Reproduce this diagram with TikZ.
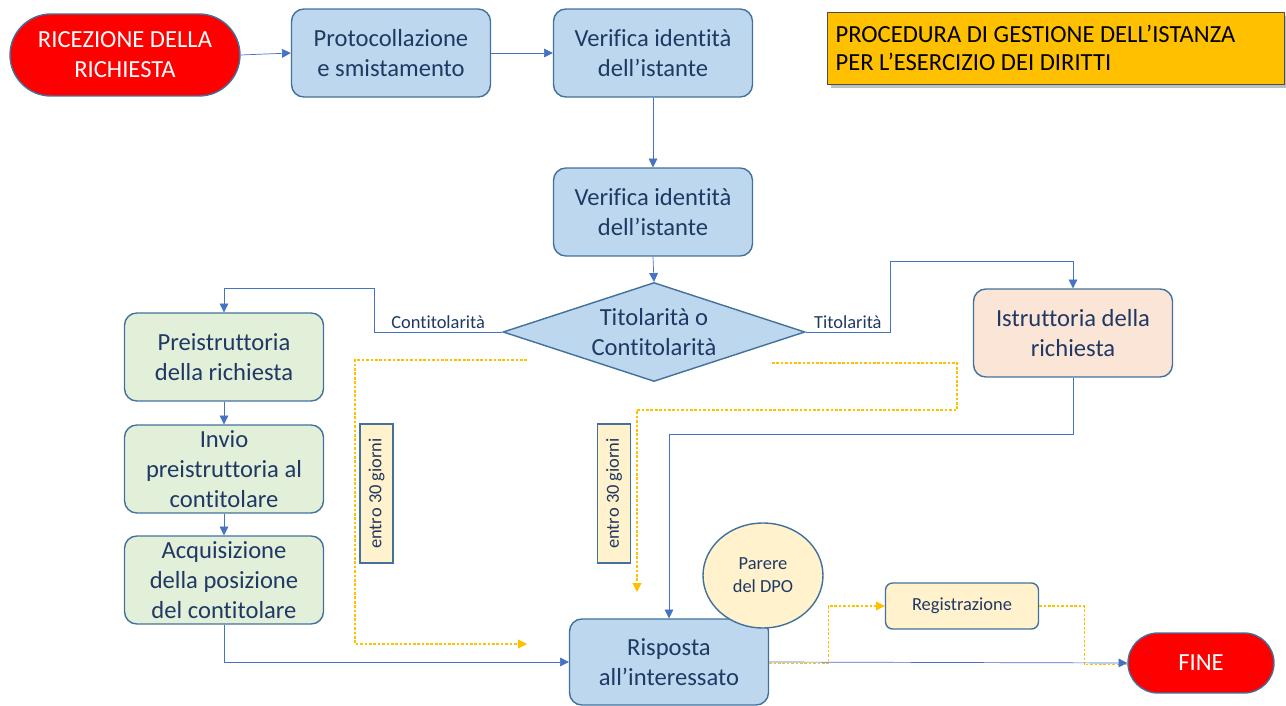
\documentclass[tikz,border=0pt]{standalone}
\usepackage{fontspec}
\setmainfont[Ligatures=NoCommon]{Carlito}
\usepackage{tikz}
\usetikzlibrary{shapes,positioning,arrows.meta,shadows}

\definecolor{boxline}{HTML}{41719C}
\definecolor{boxtext}{HTML}{1F3864}
\definecolor{lineblue}{HTML}{4472C4}
\definecolor{paleblue}{HTML}{BDD7EE}
\definecolor{palegreen}{HTML}{E2F0D9}
\definecolor{palepeach}{HTML}{FBE5D6}
\definecolor{paleyellow}{HTML}{FFF2CC}
\definecolor{gold}{HTML}{FFC000}

\begin{document}
\begin{tikzpicture}[x=0.02cm,y=-0.02cm,
    stepbox/.style={rectangle,rounded corners=7pt,draw=boxline,thick,
      text=boxtext,align=center,font=\fontsize{14}{17}\selectfont,
      minimum width=3.98cm,minimum height=1.76cm,inner sep=2pt},
    endbox/.style={rounded rectangle,draw=boxline,thick,fill=red,
      text=white,align=center,font=\fontsize{14}{17}\selectfont,inner sep=0pt},
    notebox/.style={rectangle,draw=boxline,thick,fill=paleyellow,
      text=boxtext,font=\fontsize{10.5}{12}\selectfont,inner sep=1pt},
    lbl/.style={text=boxtext,font=\fontsize{10.5}{12}\selectfont,inner sep=2pt},
    flow/.style={draw=lineblue,-{Triangle[length=5pt,width=5pt]}},
    yflow/.style={draw=gold,line width=0.6pt,dash pattern=on 1.5pt off 1pt,
      -{Triangle[length=5pt,width=5pt]}}]
  \useasboundingbox (0,0) rectangle (1286,706);

  % top row
  \node (ric) [endbox,minimum width=4.6cm,minimum height=1.64cm] at (125,55)
    {RICEZIONE DELLA\\RICHIESTA};
  \node (prot) [stepbox,fill=paleblue] at (391,53) {Protocollazione\\e smistamento};
  \node (ver1) [stepbox,fill=paleblue] at (653,53) {Verifica identità\\dell’istante};
  \node (title) [rectangle,draw=black!70,fill=gold,drop shadow,align=flush left,
    minimum width=9.14cm,minimum height=1.44cm,text width=8.8cm,
    font=\fontsize{14}{16.4}\selectfont] at (1055.5,48)
    {PROCEDURA DI GESTIONE DELL’ISTANZA\\PER L’ESERCIZIO DEI DIRITTI};

  \node (ver2) [stepbox,fill=paleblue] at (653,212) {Verifica identità\\dell’istante};
  \node (dec) [diamond,draw=boxline,thick,fill=paleblue,inner sep=0pt,
    minimum width=6.04cm,minimum height=1.98cm] at (654,332) {};
  \node (dectxt) [text=boxtext,align=center,font=\fontsize{14}{17}\selectfont]
    at (dec) {Titolarità o\\Contitolarità};

  % left branch
  \node (pre) [stepbox,fill=palegreen] at (224,357) {Preistruttoria\\della richiesta};
  \node (inv) [stepbox,fill=palegreen] at (224,469) {Invio\\preistruttoria al\\contitolare};
  \node (acq) [stepbox,fill=palegreen] at (224,580) {Acquisizione\\della posizione\\del contitolare};

  % right branch
  \node (istr) [stepbox,fill=palepeach] at (1073,333) {Istruttoria della\\richiesta};

  % deadlines
  \node (gg1) [notebox,rotate=90,minimum width=2.78cm,minimum height=0.66cm]
    at (376.5,493.5) {entro 30 giorni};
  \node (gg2) [notebox,rotate=90,minimum width=2.78cm,minimum height=0.66cm]
    at (614,493.5) {entro 30 giorni};

  % bottom row
  \node (risp) [stepbox,fill=paleblue,minimum height=1.72cm] at (669,662)
    {Risposta\\all’interessato};
  \node (dpo) [ellipse,draw=boxline,thick,fill=paleyellow,text=boxtext,align=center,
    inner sep=0pt,minimum width=2.4cm,minimum height=2.1cm,
    font=\fontsize{10.5}{13}\selectfont] at (763,575.5) {Parere\\del DPO};
  \node (reg) [rectangle,rounded corners=4pt,draw=boxline,thick,fill=paleyellow,
    text=boxtext,minimum width=3.06cm,minimum height=0.92cm,
    font=\fontsize{10.5}{13}\selectfont] at (962,606) {Registrazione};
  \node (fine) [endbox,minimum width=2.92cm,minimum height=1.2cm] at (1201,663) {FINE};

  % bend points
  \coordinate (cl1) at (374,332);
  \coordinate (cl2) at (374,288);
  \coordinate (cr1) at (890,332);
  \coordinate (cr2) at (890,261);
  \coordinate (ci) at (669,434);
  \coordinate (ys1) at (527,360);
  \coordinate (yc1) at (355,360);
  \coordinate (ye1) at (527,644);
  \coordinate (ys2) at (772,363);
  \coordinate (yc2) at (957,410);
  \coordinate (ye2) at (637,592);

  \draw[flow] (ric.east) -- (prot.west);
  \draw[flow] (prot.east) -- (ver1.west);
  \draw[flow] (ver1.south) -- (ver2.north);
  \draw[flow] (ver2.south) -- (dec.north);
  \draw[flow] (dec.west) -- node[lbl,above] {Contitolarità} (cl1) -- (cl2) -| (pre.north);
  \draw[flow] (dec.east) -- node[lbl,above] {Titolarità} (cr1) -- (cr2) -| (istr.north);
  \draw[flow] (pre.south) -- (inv.north);
  \draw[flow] (inv.south) -- (acq.north);
  \draw[flow] (acq.south) |- (risp.west);
  \draw[flow] (istr.south) |- (ci) -- (risp.north);

  \draw[yflow] (ys1) -- (yc1) |- (ye1);
  \draw[yflow] (ys2) -| (yc2) -| (ye2);
  \draw[yflow] ([yshift=-1pt]risp.east) -- ++(59,0) |- (reg.west);
  \draw[yflow,-] (reg.east) -- ++(45,0) |- ([yshift=-1pt]fine.west);
  \draw[flow] (risp.east) -- (fine.west);
\end{tikzpicture}
\end{document}
